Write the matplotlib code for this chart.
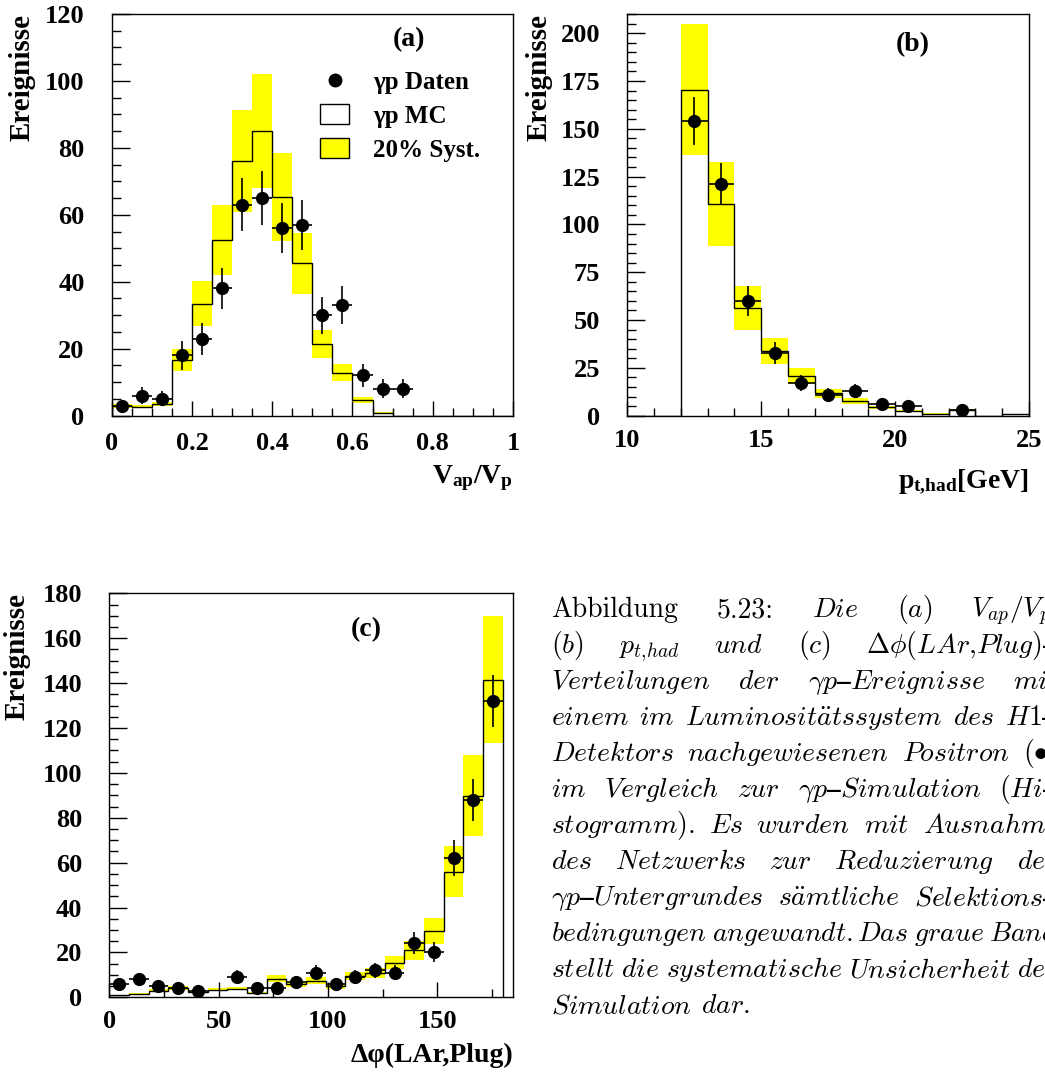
import numpy as np
import matplotlib
matplotlib.use('Agg')
import matplotlib.pyplot as plt
from matplotlib.lines import Line2D
from matplotlib.patches import Patch
from matplotlib.ticker import MultipleLocator

plt.rcParams['font.family'] = 'Liberation Serif'
plt.rcParams['font.weight'] = 'bold'
plt.rcParams['axes.labelweight'] = 'bold'
plt.rcParams['mathtext.fontset'] = 'custom'
plt.rcParams['mathtext.rm'] = 'Liberation Serif:bold'
plt.rcParams['mathtext.it'] = 'Liberation Serif:bold'
plt.rcParams['mathtext.bf'] = 'Liberation Serif:bold'

SYST = 0.2

# (a) V_ap/V_p, 20 bins from 0 to 1
va_edges = np.linspace(0, 1, 21)
va_mc = [3, 2.7, 3.4, 16.6, 33.4, 52.5, 76, 85, 65.3, 45.5,
         21.4, 12.8, 4.7, 0.9, 0, 0, 0, 0, 0, 0]
va_data = [3, 6, 5, 18, 23, 38, 63, 65, 56, 57,
           30, 33, 12, 8, 8, 0, 0, 0, 0, 0]

# (b) p_t,had, 1 GeV bins from 10 to 25
pt_edges = np.arange(10, 26, 1)
pt_mc = [0, 0, 170.5, 110.7, 56.3, 33.8, 20.9, 11.7, 7.7, 4.4, 2.4, 1.0, 2.8, 0, 0.8]
pt_data = [0, 0, 154, 121, 60, 33, 17, 11, 13, 6, 5, 0, 3, 0, 0]

# (c) delta phi(LAr,Plug), 9 degree bins from 0 to 180
dphi_edges = np.arange(0, 181, 9)
dphi_mc = [0.9, 1.5, 3.0, 4.2, 2.4, 3.3, 3.9, 1.9, 8.3, 5.9,
           7.4, 4.9, 9.4, 11, 15.5, 21, 29.6, 56, 89.8, 141.5]
dphi_data = [6, 8, 5, 4, 3, 0, 9, 4, 4, 7,
             11, 6, 9, 12, 11, 24, 20, 62, 88, 132]

caption = [
    ['Abbildung', '5.23:', r'$Die$', r'$(a)$', r'$V_{ap}/V_p{,}$'],
    [r'$(b)$', r'$p_{t{,}had}$', r'$und$', r'$(c)$', r'$\Delta\phi(LAr{,}Plug)–$'],
    [r'$Verteilungen$', r'$der$', r'$\gamma p–Ereignisse$', r'$mit$'],
    [r'$einem$', r'$im$', r'$Luminosit\ddot{a}tssystem$', r'$des$', r'$H1–$'],
    [r'$Detektors$', r'$nachgewiesenen$', r'$Positron$', r'$(\bullet)$'],
    [r'$im$', r'$Vergleich$', r'$zur$', r'$\gamma p–Simulation$', r'$(Hi–$'],
    [r'$stogramm).$', r'$Es$', r'$wurden$', r'$mit$', r'$Ausnahme$'],
    [r'$des$', r'$Netzwerks$', r'$zur$', r'$Reduzierung$', r'$des$'],
    [r'$\gamma p–Untergrundes$', r'$s\ddot{a}mtliche$', r'$Selektions–$'],
    [r'$bedingungen$', r'$angewandt.$', r'$Das$', r'$graue$', r'$Band$'],
    [r'$stellt$', r'$die$', r'$systematische$', r'$Unsicherheit$', r'$der$'],
    [r'$Simulation$', r'$dar.$'],
]

W, H = 1045, 1074
fig = plt.figure(figsize=(W / 100, H / 100), dpi=100)


def px_axes(l, t, r, b):
    return fig.add_axes([l / W, 1 - b / H, (r - l) / W, (b - t) / H])


def draw_panel(ax, edges, mc, data):
    edges = np.asarray(edges, float)
    mc = np.asarray(mc, float)
    data = np.asarray(data, float)
    centers = 0.5 * (edges[1:] + edges[:-1])
    widths = np.diff(edges)
    ax.bar(centers, 2 * SYST * mc, bottom=(1 - SYST) * mc, width=widths,
           color='#ffff00', linewidth=0, zorder=1)
    ax.stairs(mc, edges, baseline=0, color='black', linewidth=1.0, zorder=2)
    m = data > 0
    ax.errorbar(centers[m], data[m], xerr=widths[m] / 2, yerr=np.sqrt(data[m]),
                fmt='o', color='black', ms=8.5, elinewidth=1.2, capsize=0, zorder=3)


def style(ax, xmaj, xmin, ymaj, ymin, xpad):
    ax.xaxis.set_major_locator(MultipleLocator(xmaj))
    ax.xaxis.set_minor_locator(MultipleLocator(xmin))
    ax.yaxis.set_major_locator(MultipleLocator(ymaj))
    ax.yaxis.set_minor_locator(MultipleLocator(ymin))
    ax.tick_params(which='both', direction='in', top=False, right=False, width=1.0)
    ax.tick_params(axis='y', which='major', length=13, pad=19.5, labelsize=19)
    ax.tick_params(axis='y', which='minor', length=6.5)
    ax.tick_params(axis='x', which='major', length=11, pad=xpad, labelsize=19)
    ax.tick_params(axis='x', which='minor', length=6)
    for s in ax.spines.values():
        s.set_linewidth(1.0)


# (a)
ax1 = px_axes(111.7, 14, 513, 415.6)
draw_panel(ax1, va_edges, va_mc, va_data)
ax1.set_xlim(0, 1)
ax1.set_ylim(0, 120)
style(ax1, 0.2, 0.05, 20, 5, 11.5)
ax1.xaxis.set_major_formatter(plt.FuncFormatter(lambda v, p: '%g' % round(v, 2)))
ax1.text(0.74, 0.935, '(a)', transform=ax1.transAxes, ha='center', va='center', fontsize=20)
handles = [Line2D([], [], marker='o', color='black', ls='none', ms=9),
           Patch(facecolor='white', edgecolor='black', linewidth=1.0),
           Patch(facecolor='#ffff00', edgecolor='black', linewidth=1.0)]
ax1.legend(handles, ['γp Daten', 'γp MC', '20% Syst.'], loc='upper left',
           bbox_to_anchor=(0.52, 0.86), frameon=False, fontsize=18,
           handlelength=1.15, handleheight=0.85, handletextpad=0.95,
           labelspacing=0.42, borderpad=0, borderaxespad=0)
ax1.set_xlabel(r'$V_{ap}/V_p$', fontsize=20, loc='right')
ax1.xaxis.set_label_coords(1.0, -0.118)
ax1.set_ylabel('Ereignisse', fontsize=21, loc='top')
ax1.yaxis.set_label_coords(-0.189, 1.0)

# (b)
ax2 = px_axes(627.3, 14, 1029, 415.7)
draw_panel(ax2, pt_edges, pt_mc, pt_data)
ax2.set_xlim(10, 25)
ax2.set_ylim(0, 210)
style(ax2, 5, 1, 25, 5, 9.5)
ax2.text(0.711, 0.923, '(b)', transform=ax2.transAxes, ha='center', va='center', fontsize=20)
ax2.set_xlabel(r'$p_{t{,}had}$[GeV]', fontsize=20, loc='right')
ax2.xaxis.set_label_coords(1.0, -0.128)
ax2.set_ylabel('Ereignisse', fontsize=21, loc='top')
ax2.yaxis.set_label_coords(-0.187, 1.0)

# (c)
ax3 = px_axes(109.3, 593.3, 513.3, 997.3)
draw_panel(ax3, dphi_edges, dphi_mc, dphi_data)
ax3.set_xlim(0, 184.8)
ax3.set_ylim(0, 180)
style(ax3, 50, 25, 20, 5, 9)
ax3.text(0.635, 0.909, '(c)', transform=ax3.transAxes, ha='center', va='center', fontsize=20)
ax3.set_xlabel('Δφ(LAr,Plug)', fontsize=20, loc='right')
ax3.xaxis.set_label_coords(1.0, -0.113)
ax3.set_ylabel('Ereignisse', fontsize=21, loc='top')
ax3.yaxis.set_label_coords(-0.196, 1.0)

# caption, justified word by word (it runs past the right edge like the scan)
left, right = 551, 1058
base0, step = 617, 36
renderer = fig.canvas.get_renderer()
for i, words in enumerate(caption):
    y = 1 - (base0 + i * step) / H
    texts = []
    for w in words:
        if w.startswith('$'):
            t = fig.text(0, y, w, fontsize=20, fontweight='normal',
                         math_fontfamily='cm', va='baseline')
        else:
            t = fig.text(0, y, w, fontsize=20, fontweight='normal',
                         family='cmr10', va='baseline')
        texts.append(t)
    widths = [t.get_window_extent(renderer).width for t in texts]
    if i == len(caption) - 1:
        gap = 9
    else:
        gap = (right - left - sum(widths)) / (len(words) - 1)
    x = left
    for t, w in zip(texts, widths):
        t.set_x(x / W)
        x += w + gap

fig.savefig('out.png', dpi=100)
